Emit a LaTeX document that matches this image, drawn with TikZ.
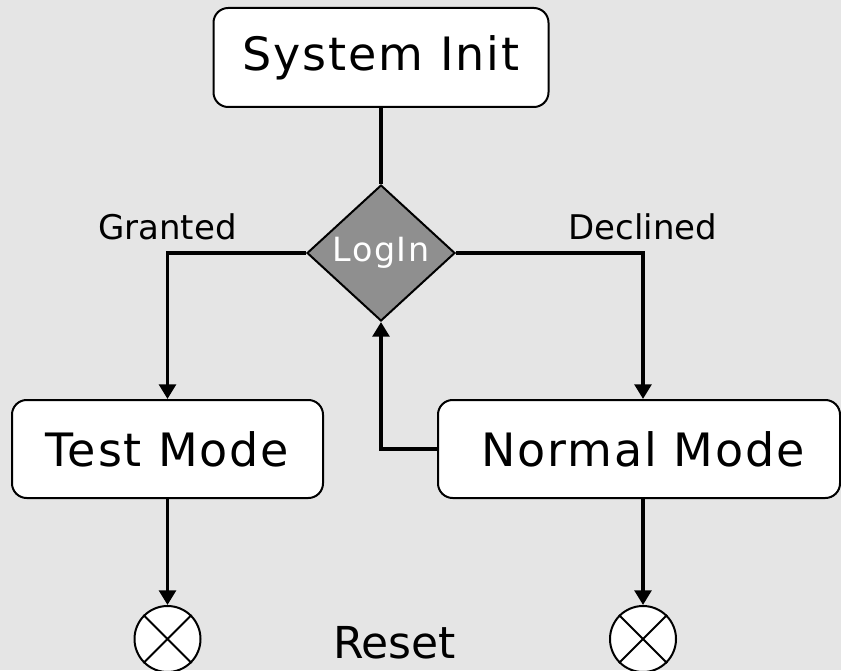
\documentclass[tikz,border=0pt]{standalone}
\usepackage{fontspec}
\setmainfont{DejaVu Sans}
\usetikzlibrary{shapes.geometric,arrows.meta}
\definecolor{bg}{HTML}{E5E5E5}
\definecolor{dgray}{HTML}{8F8F8F}
\begin{document}
\begin{tikzpicture}[x=0.75pt,y=-0.75pt,
  box/.style={draw=black, line width=1.5pt, fill=white, rounded corners=11pt, inner sep=0pt, font=\fontsize{34.5pt}{40pt}\selectfont\addfontfeature{LetterSpace=4}},
  dec/.style={diamond, draw=black, line width=1.5pt, fill=dgray, inner sep=0pt, minimum width=111pt, minimum height=102pt, text=white, font=\fontsize{25pt}{30pt}\selectfont\addfontfeature{LetterSpace=5}},
  endc/.style={circle, draw=black, line width=1.5pt, fill=white, minimum size=49.5pt, inner sep=0pt},
  conn/.style={line width=2.8pt},
  arr/.style={conn, -{Triangle[length=11pt,width=12.5pt]}},
  lbl/.style={font=\fontsize{25.5pt}{30pt}\selectfont, inner sep=0pt, anchor=south, yshift=8.25pt}
]
\fill[bg] (0,0) rectangle (841,670);
\useasboundingbox (0,0) rectangle (841,670);

\node[box, minimum width=251.25pt, minimum height=74.25pt] (init) at (381,57.5) {System Init};
\node[dec] (login) at (381,253) {LogIn};
\node[box, minimum width=233.25pt, minimum height=73.5pt] (test) at (167.5,449) {Test Mode};
\node[box, minimum width=301.5pt, minimum height=73.5pt] (normal) at (639,449) {\hspace*{6pt}Normal Mode};
\node[endc] (c1) at (167.5,639) {};
\node[endc] (c2) at (643,639) {};
\draw[line width=1.5pt] (c1.north west) -- (c1.south east) (c1.north east) -- (c1.south west);
\draw[line width=1.5pt] (c2.north west) -- (c2.south east) (c2.north east) -- (c2.south west);
\node[font=\fontsize{33pt}{38pt}\selectfont, inner sep=0pt, anchor=base] (reset) at (394.5,658) {Reset};

\draw[conn] (init.south) -- (login.north);
\draw[arr] (login.west) -| node[lbl, pos=0.5] {Granted} (test.north);
\draw[arr] (login.east) -| node[lbl, pos=0.5] {Declined} ([xshift=3pt]normal.north);
\draw[arr] (normal.west) -| (login.south);
\draw[arr] (test.south) -- (c1.north);
\draw[arr] ([xshift=3pt]normal.south) -- (c2.north);
\end{tikzpicture}
\end{document}
